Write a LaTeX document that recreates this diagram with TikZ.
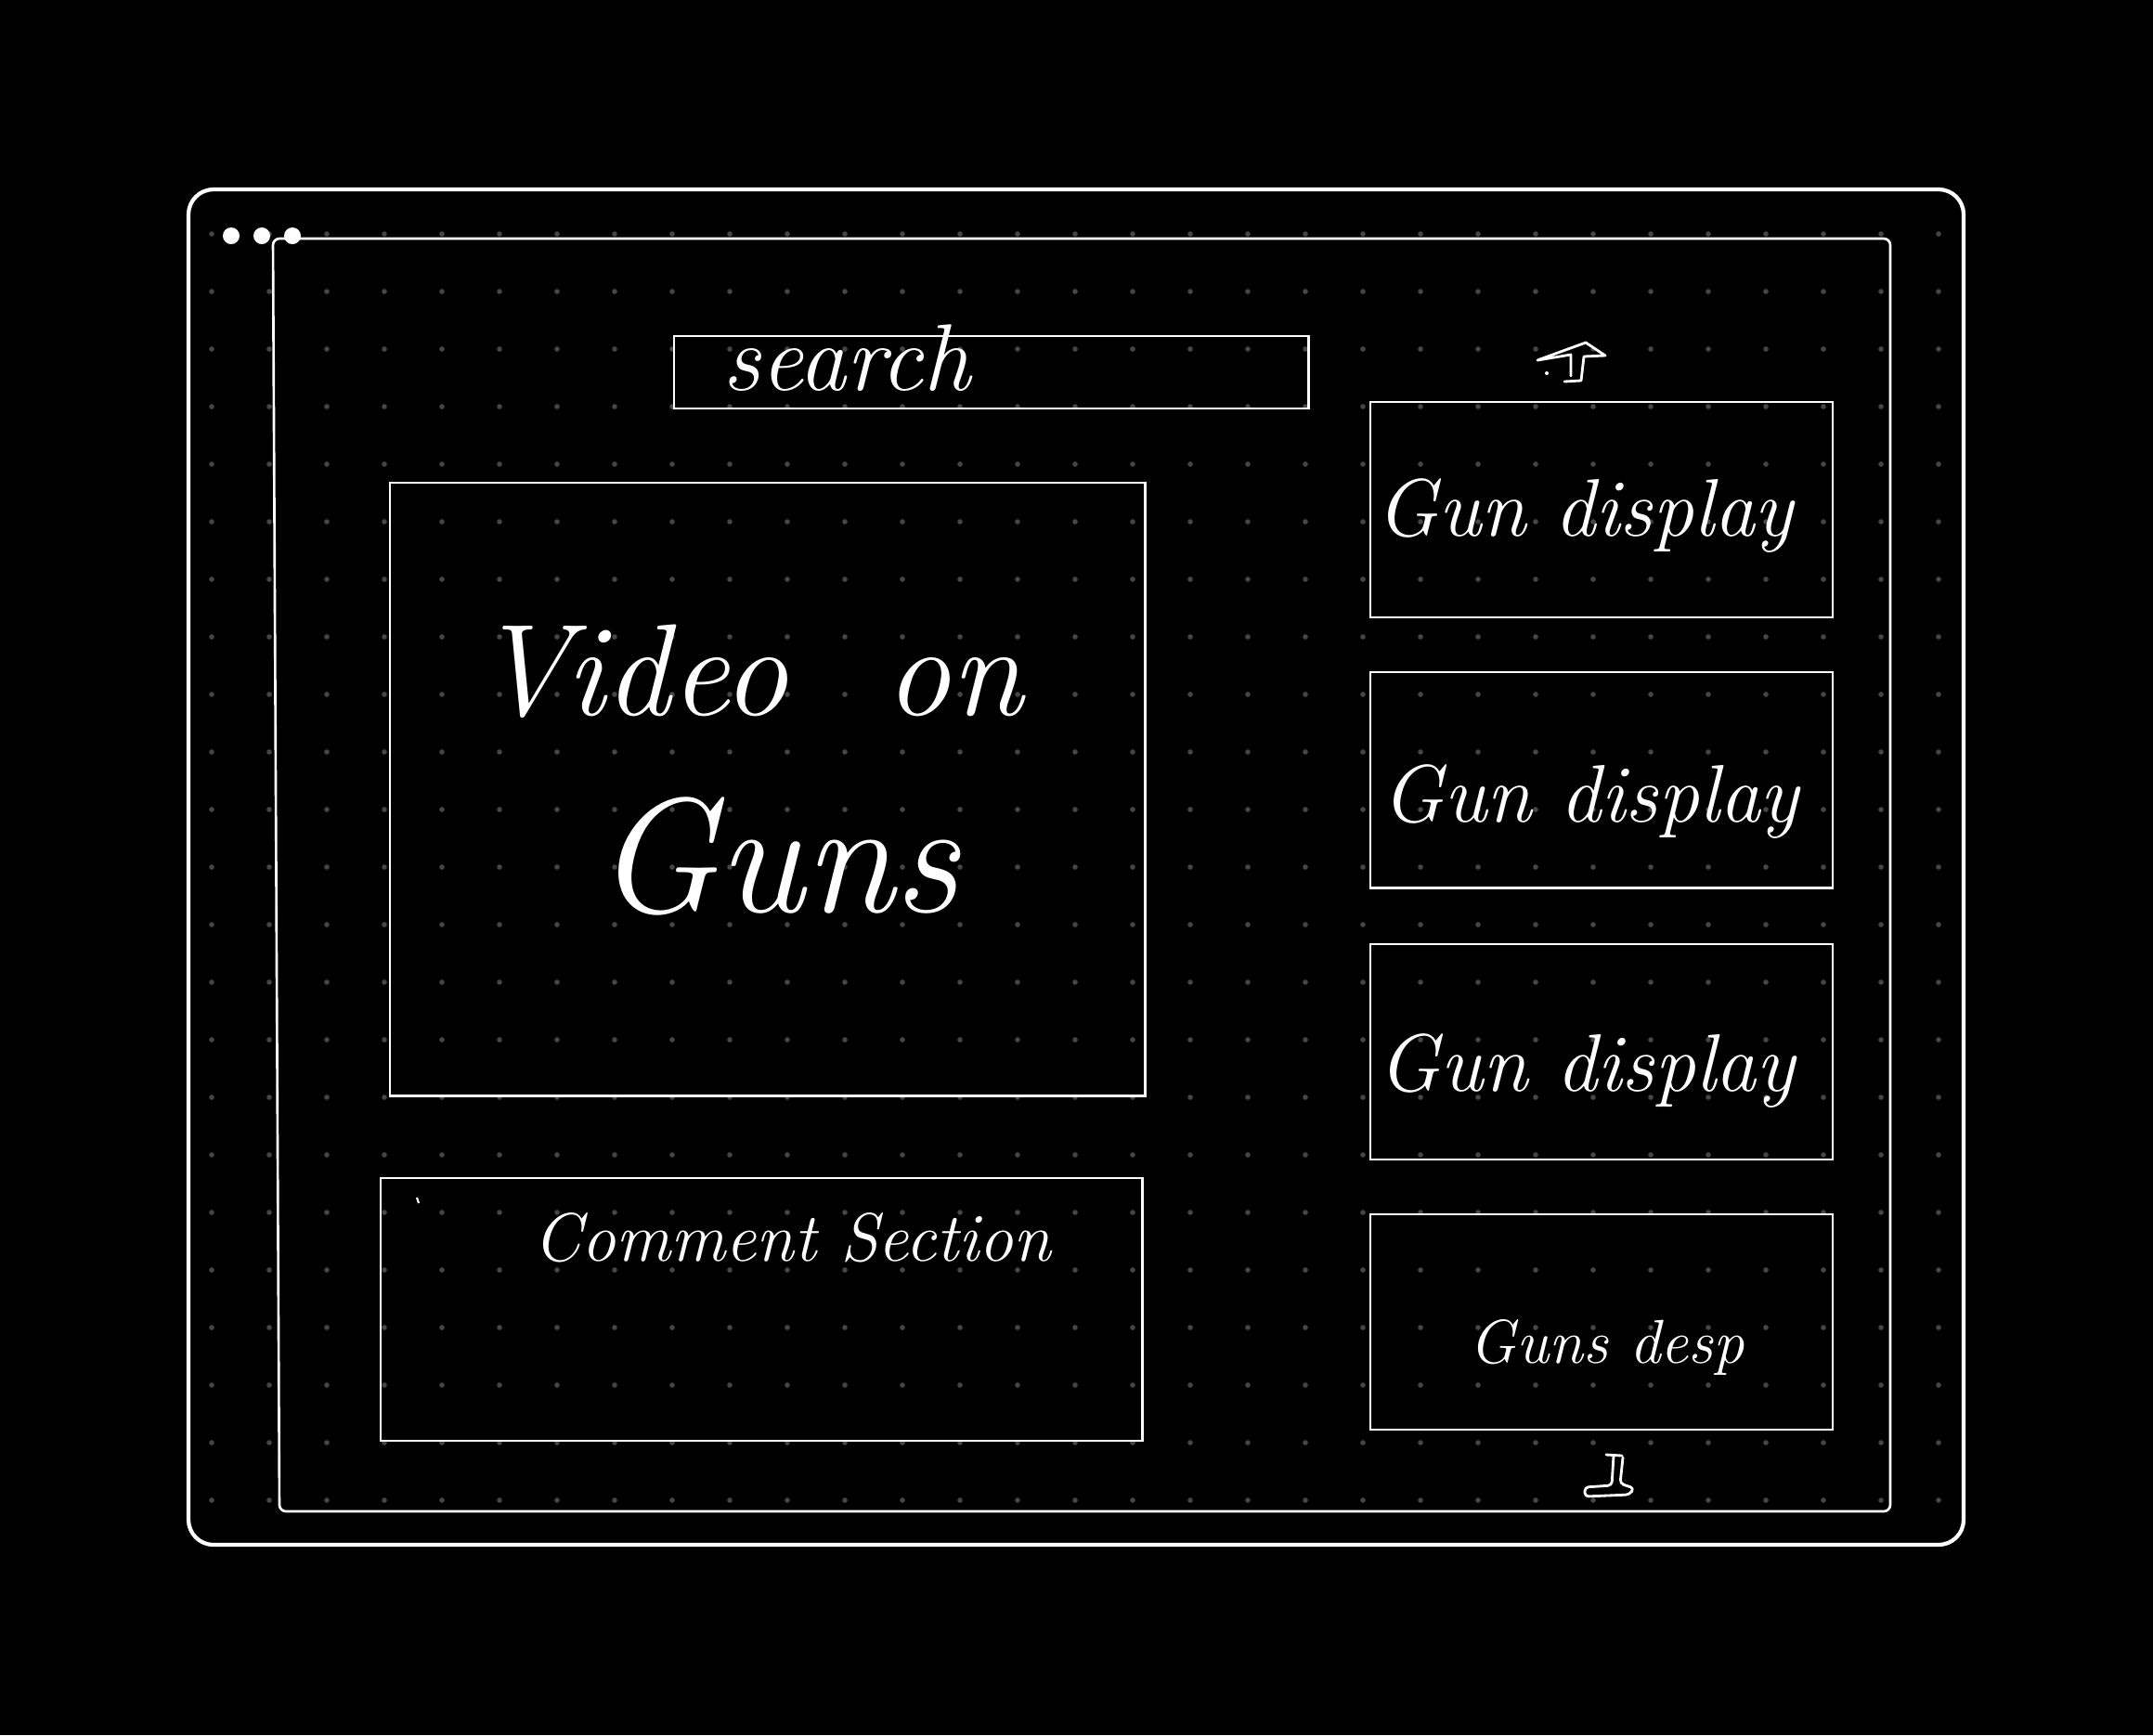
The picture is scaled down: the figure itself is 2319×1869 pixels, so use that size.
\documentclass[tikz,border=0pt]{standalone}
\usetikzlibrary{positioning}
\definecolor{griddot}{RGB}{70,70,70}
\begin{document}
\begin{tikzpicture}[x=0.01cm,y=-0.01cm,
    panel/.style={draw=white,line width=0.6pt,inner sep=0pt,anchor=north west},
    card/.style={panel,minimum width=4.98cm,minimum height=2.32cm},
    hand/.style={text=white,inner sep=0pt,anchor=base west,font=\itshape},
    sketch/.style={draw=white,line width=0.8pt,line join=round,line cap=round}]
    \fill[black] (0,0) rectangle (2319,1869);
    \useasboundingbox (0,0) rectangle (2319,1869);
    \foreach \i in {0,...,30}
        \foreach \j in {0,...,22}
            \fill[griddot] (228+62*\i,252+62*\j) circle[radius=0.028cm];
    \draw[white,line width=1.2pt,rounded corners=0.27cm] (203,204) rectangle (2115,1664);
    \draw[white,line width=0.75pt,rounded corners=0.07cm] (294,257) -- (2036,257) -- (2036,1628) -- (301,1628) -- cycle;
    \foreach \x in {249,282,315}
        \fill[white] (\x,254) circle[radius=0.09cm];
    \node[panel,minimum width=6.83cm,minimum height=0.78cm] (search) at (725,361) {};
    \node[panel,minimum width=8.13cm,minimum height=6.60cm] (video) at (419,519) {};
    \node[panel,minimum width=8.20cm,minimum height=2.83cm] (comments) at (409,1268) {};
    \node[card] (gun1) at (1475,432) {};
    \node[card,below=0.57cm of gun1] (gun2) {};
    \node[card,below=0.58cm of gun2] (gun3) {};
    \node[card,below=0.57cm of gun3] (gun4) {};
    \node[hand,font=\itshape\fontsize{29}{34}\selectfont] (searchtxt) at (778,420) {search};
    \node[hand,font=\itshape\fontsize{40}{48}\selectfont] (videotxt) at (512,770) {Video\hspace{1.05cm}on};
    \node[hand,font=\itshape\fontsize{50}{60}\selectfont] (gunstxt) at (640,982) {Guns};
    \node[hand,font=\itshape\fontsize{21}{26}\selectfont] (commenttxt) at (574,1358) {Comment Section};
    \node[hand,font=\itshape\fontsize{25}{30}\selectfont] (gun1txt) at (1482,577) {Gun display};
    \node[hand,font=\itshape\fontsize{25}{30}\selectfont] (gun2txt) at (1488,885) {Gun display};
    \node[hand,font=\itshape\fontsize{25}{30}\selectfont] (gun3txt) at (1484,1175) {Gun display};
    \node[hand,font=\itshape\fontsize{19}{23}\selectfont] (gun4txt) at (1582,1468) {Guns desp};
    \draw[white,line width=0.6pt] (449,1290) -- (451,1296);
    \draw[sketch] (1685,411) -- (1703,410) -- (1706,384) -- (1729,383) -- (1708,369) -- (1656,388) -- (1692,382) -- (1692,405);
    \fill[white] (1666,402) circle[radius=0.02cm];
    \draw[sketch] (1730,1567) -- (1747,1568);
    \draw[sketch,rounded corners=0.04cm] (1738,1568) -- (1736,1600) -- (1707,1602) -- (1707,1612) -- (1755,1610) -- (1760,1603) -- (1745,1598) -- (1748,1570);
\end{tikzpicture}
\end{document}
